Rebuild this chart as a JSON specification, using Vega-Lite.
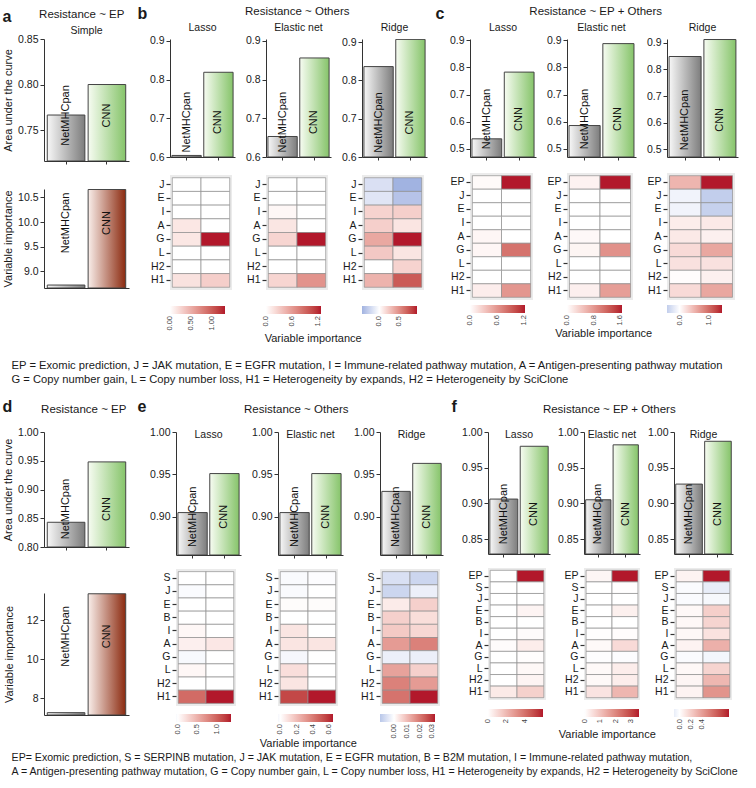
{
"$schema": "https://vega.github.io/schema/vega-lite/v6.json",
"padding": {"left": 2, "top": 5, "right": 2, "bottom": 2},
"background": "white",
"config": {
 "font": "Liberation Sans",
 "view": {"stroke": null},
 "axis": {"grid": false, "labelFontSize": 10.5, "labelColor": "#1a1a1a", "domainColor": "#333333", "tickColor": "#333333", "titleFontWeight": "normal", "titleFontSize": 11, "titleColor": "#1a1a1a", "labelPadding": 2, "labelOverlap": false, "labelBound": false},
 "title": {"fontWeight": "normal", "fontSize": 11.5, "color": "#1a1a1a"},
 "legend": {"orient": "bottom", "direction": "horizontal", "gradientLength": 55, "gradientThickness": 8, "labelFontSize": 7.5, "labelColor": "#444444", "labelOverlap": false, "titleFontWeight": "normal", "titleFontSize": 11}
},
"datasets": {
 "auc": [
  {"p":"a","m":"S","model":"NetMHCpan","auc":0.7665},{"p":"a","m":"S","model":"CNN","auc":0.80},
  {"p":"b","m":"L","model":"NetMHCpan","auc":0.604},{"p":"b","m":"L","model":"CNN","auc":0.819},
  {"p":"b","m":"E","model":"NetMHCpan","auc":0.653},{"p":"b","m":"E","model":"CNN","auc":0.856},
  {"p":"b","m":"R","model":"NetMHCpan","auc":0.836},{"p":"b","m":"R","model":"CNN","auc":0.907},
  {"p":"c","m":"L","model":"NetMHCpan","auc":0.537},{"p":"c","m":"L","model":"CNN","auc":0.783},
  {"p":"c","m":"E","model":"NetMHCpan","auc":0.586},{"p":"c","m":"E","model":"CNN","auc":0.888},
  {"p":"c","m":"R","model":"NetMHCpan","auc":0.849},{"p":"c","m":"R","model":"CNN","auc":0.913},
  {"p":"d","m":"S","model":"NetMHCpan","auc":0.843},{"p":"d","m":"S","model":"CNN","auc":0.948},
  {"p":"e","m":"L","model":"NetMHCpan","auc":0.905},{"p":"e","m":"L","model":"CNN","auc":0.951},
  {"p":"e","m":"E","model":"NetMHCpan","auc":0.905},{"p":"e","m":"E","model":"CNN","auc":0.951},
  {"p":"e","m":"R","model":"NetMHCpan","auc":0.930},{"p":"e","m":"R","model":"CNN","auc":0.963},
  {"p":"f","m":"L","model":"NetMHCpan","auc":0.906},{"p":"f","m":"L","model":"CNN","auc":0.980},
  {"p":"f","m":"E","model":"NetMHCpan","auc":0.905},{"p":"f","m":"E","model":"CNN","auc":0.982},
  {"p":"f","m":"R","model":"NetMHCpan","auc":0.927},{"p":"f","m":"R","model":"CNN","auc":0.987}
 ],
 "vi": [
  {"p":"a","model":"NetMHCpan","vi":8.72},{"p":"a","model":"CNN","vi":10.66},
  {"p":"d","model":"NetMHCpan","vi":7.25},{"p":"d","model":"CNN","vi":13.36}
 ],
 "imp": [
  {"p":"b","m":"L","f":"J","k":"N","v":0},{"p":"b","m":"L","f":"J","k":"C","v":0},
  {"p":"b","m":"L","f":"E","k":"N","v":0},{"p":"b","m":"L","f":"E","k":"C","v":0},
  {"p":"b","m":"L","f":"I","k":"N","v":0},{"p":"b","m":"L","f":"I","k":"C","v":0},
  {"p":"b","m":"L","f":"A","k":"N","v":0.15},{"p":"b","m":"L","f":"A","k":"C","v":0},
  {"p":"b","m":"L","f":"G","k":"N","v":0.15},{"p":"b","m":"L","f":"G","k":"C","v":1.32},
  {"p":"b","m":"L","f":"L","k":"N","v":0},{"p":"b","m":"L","f":"L","k":"C","v":0},
  {"p":"b","m":"L","f":"H2","k":"N","v":0},{"p":"b","m":"L","f":"H2","k":"C","v":0},
  {"p":"b","m":"L","f":"H1","k":"N","v":0.18},{"p":"b","m":"L","f":"H1","k":"C","v":0.3},

  {"p":"b","m":"E","f":"J","k":"N","v":0},{"p":"b","m":"E","f":"J","k":"C","v":0},
  {"p":"b","m":"E","f":"E","k":"N","v":0},{"p":"b","m":"E","f":"E","k":"C","v":0},
  {"p":"b","m":"E","f":"I","k":"N","v":0.05},{"p":"b","m":"E","f":"I","k":"C","v":0},
  {"p":"b","m":"E","f":"A","k":"N","v":0.15},{"p":"b","m":"E","f":"A","k":"C","v":0},
  {"p":"b","m":"E","f":"G","k":"N","v":0.25},{"p":"b","m":"E","f":"G","k":"C","v":1.28},
  {"p":"b","m":"E","f":"L","k":"N","v":0},{"p":"b","m":"E","f":"L","k":"C","v":0},
  {"p":"b","m":"E","f":"H2","k":"N","v":0},{"p":"b","m":"E","f":"H2","k":"C","v":0},
  {"p":"b","m":"E","f":"H1","k":"N","v":0.25},{"p":"b","m":"E","f":"H1","k":"C","v":0.65},

  {"p":"b","m":"R","f":"J","k":"N","v":-0.18},{"p":"b","m":"R","f":"J","k":"C","v":-0.45},
  {"p":"b","m":"R","f":"E","k":"N","v":-0.15},{"p":"b","m":"R","f":"E","k":"C","v":-0.35},
  {"p":"b","m":"R","f":"I","k":"N","v":0.2},{"p":"b","m":"R","f":"I","k":"C","v":0.22},
  {"p":"b","m":"R","f":"A","k":"N","v":0.22},{"p":"b","m":"R","f":"A","k":"C","v":0.12},
  {"p":"b","m":"R","f":"G","k":"N","v":0.4},{"p":"b","m":"R","f":"G","k":"C","v":0.98},
  {"p":"b","m":"R","f":"L","k":"N","v":0.25},{"p":"b","m":"R","f":"L","k":"C","v":0.12},
  {"p":"b","m":"R","f":"H2","k":"N","v":0},{"p":"b","m":"R","f":"H2","k":"C","v":0.2},
  {"p":"b","m":"R","f":"H1","k":"N","v":0.35},{"p":"b","m":"R","f":"H1","k":"C","v":0.75},

  {"p":"c","m":"L","f":"EP","k":"N","v":0.03},{"p":"c","m":"L","f":"EP","k":"C","v":1.22},
  {"p":"c","m":"L","f":"J","k":"N","v":0},{"p":"c","m":"L","f":"J","k":"C","v":0},
  {"p":"c","m":"L","f":"E","k":"N","v":0},{"p":"c","m":"L","f":"E","k":"C","v":0},
  {"p":"c","m":"L","f":"I","k":"N","v":0},{"p":"c","m":"L","f":"I","k":"C","v":0},
  {"p":"c","m":"L","f":"A","k":"N","v":0.05},{"p":"c","m":"L","f":"A","k":"C","v":0},
  {"p":"c","m":"L","f":"G","k":"N","v":0.05},{"p":"c","m":"L","f":"G","k":"C","v":0.8},
  {"p":"c","m":"L","f":"L","k":"N","v":0},{"p":"c","m":"L","f":"L","k":"C","v":0},
  {"p":"c","m":"L","f":"H2","k":"N","v":0},{"p":"c","m":"L","f":"H2","k":"C","v":0},
  {"p":"c","m":"L","f":"H1","k":"N","v":0.1},{"p":"c","m":"L","f":"H1","k":"C","v":0.6},

  {"p":"c","m":"E","f":"EP","k":"N","v":0.1},{"p":"c","m":"E","f":"EP","k":"C","v":1.65},
  {"p":"c","m":"E","f":"J","k":"N","v":0},{"p":"c","m":"E","f":"J","k":"C","v":0},
  {"p":"c","m":"E","f":"E","k":"N","v":0},{"p":"c","m":"E","f":"E","k":"C","v":0},
  {"p":"c","m":"E","f":"I","k":"N","v":0},{"p":"c","m":"E","f":"I","k":"C","v":0},
  {"p":"c","m":"E","f":"A","k":"N","v":0.05},{"p":"c","m":"E","f":"A","k":"C","v":0},
  {"p":"c","m":"E","f":"G","k":"N","v":0.08},{"p":"c","m":"E","f":"G","k":"C","v":0.85},
  {"p":"c","m":"E","f":"L","k":"N","v":0},{"p":"c","m":"E","f":"L","k":"C","v":0},
  {"p":"c","m":"E","f":"H2","k":"N","v":0},{"p":"c","m":"E","f":"H2","k":"C","v":0},
  {"p":"c","m":"E","f":"H1","k":"N","v":0.12},{"p":"c","m":"E","f":"H1","k":"C","v":0.75},

  {"p":"c","m":"R","f":"EP","k":"N","v":0.5},{"p":"c","m":"R","f":"EP","k":"C","v":1.45},
  {"p":"c","m":"R","f":"J","k":"N","v":-0.1},{"p":"c","m":"R","f":"J","k":"C","v":-0.43},
  {"p":"c","m":"R","f":"E","k":"N","v":-0.1},{"p":"c","m":"R","f":"E","k":"C","v":-0.4},
  {"p":"c","m":"R","f":"I","k":"N","v":0.12},{"p":"c","m":"R","f":"I","k":"C","v":0.15},
  {"p":"c","m":"R","f":"A","k":"N","v":0.15},{"p":"c","m":"R","f":"A","k":"C","v":0.1},
  {"p":"c","m":"R","f":"G","k":"N","v":0.25},{"p":"c","m":"R","f":"G","k":"C","v":0.6},
  {"p":"c","m":"R","f":"L","k":"N","v":0.2},{"p":"c","m":"R","f":"L","k":"C","v":0.2},
  {"p":"c","m":"R","f":"H2","k":"N","v":0.02},{"p":"c","m":"R","f":"H2","k":"C","v":0.1},
  {"p":"c","m":"R","f":"H1","k":"N","v":0.25},{"p":"c","m":"R","f":"H1","k":"C","v":0.6},

  {"p":"e","m":"L","f":"S","k":"N","v":0},{"p":"e","m":"L","f":"S","k":"C","v":0},
  {"p":"e","m":"L","f":"J","k":"N","v":-0.03},{"p":"e","m":"L","f":"J","k":"C","v":0},
  {"p":"e","m":"L","f":"E","k":"N","v":0},{"p":"e","m":"L","f":"E","k":"C","v":0},
  {"p":"e","m":"L","f":"B","k":"N","v":0},{"p":"e","m":"L","f":"B","k":"C","v":0},
  {"p":"e","m":"L","f":"I","k":"N","v":0.05},{"p":"e","m":"L","f":"I","k":"C","v":0},
  {"p":"e","m":"L","f":"A","k":"N","v":0.1},{"p":"e","m":"L","f":"A","k":"C","v":0.15},
  {"p":"e","m":"L","f":"G","k":"N","v":-0.05},{"p":"e","m":"L","f":"G","k":"C","v":0},
  {"p":"e","m":"L","f":"L","k":"N","v":0.05},{"p":"e","m":"L","f":"L","k":"C","v":0},
  {"p":"e","m":"L","f":"H2","k":"N","v":0},{"p":"e","m":"L","f":"H2","k":"C","v":0},
  {"p":"e","m":"L","f":"H1","k":"N","v":0.95},{"p":"e","m":"L","f":"H1","k":"C","v":1.37},

  {"p":"e","m":"E","f":"S","k":"N","v":-0.02},{"p":"e","m":"E","f":"S","k":"C","v":-0.01},
  {"p":"e","m":"E","f":"J","k":"N","v":-0.02},{"p":"e","m":"E","f":"J","k":"C","v":0},
  {"p":"e","m":"E","f":"E","k":"N","v":0.01},{"p":"e","m":"E","f":"E","k":"C","v":0.01},
  {"p":"e","m":"E","f":"B","k":"N","v":0},{"p":"e","m":"E","f":"B","k":"C","v":0},
  {"p":"e","m":"E","f":"I","k":"N","v":0.08},{"p":"e","m":"E","f":"I","k":"C","v":0},
  {"p":"e","m":"E","f":"A","k":"N","v":0.08},{"p":"e","m":"E","f":"A","k":"C","v":0.08},
  {"p":"e","m":"E","f":"G","k":"N","v":-0.03},{"p":"e","m":"E","f":"G","k":"C","v":0},
  {"p":"e","m":"E","f":"L","k":"N","v":0.1},{"p":"e","m":"E","f":"L","k":"C","v":0},
  {"p":"e","m":"E","f":"H2","k":"N","v":0.08},{"p":"e","m":"E","f":"H2","k":"C","v":0},
  {"p":"e","m":"E","f":"H1","k":"N","v":0.55},{"p":"e","m":"E","f":"H1","k":"C","v":0.65},

  {"p":"e","m":"R","f":"S","k":"N","v":-0.006},{"p":"e","m":"R","f":"S","k":"C","v":-0.008},
  {"p":"e","m":"R","f":"J","k":"N","v":-0.008},{"p":"e","m":"R","f":"J","k":"C","v":-0.003},
  {"p":"e","m":"R","f":"E","k":"N","v":0.003},{"p":"e","m":"R","f":"E","k":"C","v":0.007},
  {"p":"e","m":"R","f":"B","k":"N","v":0.007},{"p":"e","m":"R","f":"B","k":"C","v":0.005},
  {"p":"e","m":"R","f":"I","k":"N","v":0.008},{"p":"e","m":"R","f":"I","k":"C","v":0.006},
  {"p":"e","m":"R","f":"A","k":"N","v":0.015},{"p":"e","m":"R","f":"A","k":"C","v":0.019},
  {"p":"e","m":"R","f":"G","k":"N","v":-0.003},{"p":"e","m":"R","f":"G","k":"C","v":-0.003},
  {"p":"e","m":"R","f":"L","k":"N","v":0.014},{"p":"e","m":"R","f":"L","k":"C","v":0.007},
  {"p":"e","m":"R","f":"H2","k":"N","v":0.019},{"p":"e","m":"R","f":"H2","k":"C","v":0.015},
  {"p":"e","m":"R","f":"H1","k":"N","v":0.021},{"p":"e","m":"R","f":"H1","k":"C","v":0.032},

  {"p":"f","m":"L","f":"EP","k":"N","v":0},{"p":"f","m":"L","f":"EP","k":"C","v":6.0},
  {"p":"f","m":"L","f":"S","k":"N","v":0},{"p":"f","m":"L","f":"S","k":"C","v":0},
  {"p":"f","m":"L","f":"J","k":"N","v":0},{"p":"f","m":"L","f":"J","k":"C","v":0},
  {"p":"f","m":"L","f":"E","k":"N","v":0},{"p":"f","m":"L","f":"E","k":"C","v":0.3},
  {"p":"f","m":"L","f":"B","k":"N","v":0},{"p":"f","m":"L","f":"B","k":"C","v":0},
  {"p":"f","m":"L","f":"I","k":"N","v":0},{"p":"f","m":"L","f":"I","k":"C","v":0.1},
  {"p":"f","m":"L","f":"A","k":"N","v":0.1},{"p":"f","m":"L","f":"A","k":"C","v":0.5},
  {"p":"f","m":"L","f":"G","k":"N","v":0},{"p":"f","m":"L","f":"G","k":"C","v":0.05},
  {"p":"f","m":"L","f":"L","k":"N","v":0},{"p":"f","m":"L","f":"L","k":"C","v":0.2},
  {"p":"f","m":"L","f":"H2","k":"N","v":0},{"p":"f","m":"L","f":"H2","k":"C","v":0.3},
  {"p":"f","m":"L","f":"H1","k":"N","v":0.6},{"p":"f","m":"L","f":"H1","k":"C","v":1.3},

  {"p":"f","m":"E","f":"EP","k":"N","v":0.15},{"p":"f","m":"E","f":"EP","k":"C","v":3.5},
  {"p":"f","m":"E","f":"S","k":"N","v":0},{"p":"f","m":"E","f":"S","k":"C","v":0.02},
  {"p":"f","m":"E","f":"J","k":"N","v":0},{"p":"f","m":"E","f":"J","k":"C","v":0},
  {"p":"f","m":"E","f":"E","k":"N","v":0},{"p":"f","m":"E","f":"E","k":"C","v":0.25},
  {"p":"f","m":"E","f":"B","k":"N","v":0},{"p":"f","m":"E","f":"B","k":"C","v":0},
  {"p":"f","m":"E","f":"I","k":"N","v":0.02},{"p":"f","m":"E","f":"I","k":"C","v":0.05},
  {"p":"f","m":"E","f":"A","k":"N","v":0.1},{"p":"f","m":"E","f":"A","k":"C","v":0.6},
  {"p":"f","m":"E","f":"G","k":"N","v":-0.03},{"p":"f","m":"E","f":"G","k":"C","v":-0.05},
  {"p":"f","m":"E","f":"L","k":"N","v":0.1},{"p":"f","m":"E","f":"L","k":"C","v":0.3},
  {"p":"f","m":"E","f":"H2","k":"N","v":0.1},{"p":"f","m":"E","f":"H2","k":"C","v":0.3},
  {"p":"f","m":"E","f":"H1","k":"N","v":0.45},{"p":"f","m":"E","f":"H1","k":"C","v":1.2},

  {"p":"f","m":"R","f":"EP","k":"N","v":0.05},{"p":"f","m":"R","f":"EP","k":"C","v":0.89},
  {"p":"f","m":"R","f":"S","k":"N","v":-0.02},{"p":"f","m":"R","f":"S","k":"C","v":-0.1},
  {"p":"f","m":"R","f":"J","k":"N","v":-0.02},{"p":"f","m":"R","f":"J","k":"C","v":-0.04},
  {"p":"f","m":"R","f":"E","k":"N","v":0.03},{"p":"f","m":"R","f":"E","k":"C","v":0.2},
  {"p":"f","m":"R","f":"B","k":"N","v":0.03},{"p":"f","m":"R","f":"B","k":"C","v":0.18},
  {"p":"f","m":"R","f":"I","k":"N","v":0.03},{"p":"f","m":"R","f":"I","k":"C","v":0.12},
  {"p":"f","m":"R","f":"A","k":"N","v":0.05},{"p":"f","m":"R","f":"A","k":"C","v":0.33},
  {"p":"f","m":"R","f":"G","k":"N","v":-0.02},{"p":"f","m":"R","f":"G","k":"C","v":-0.05},
  {"p":"f","m":"R","f":"L","k":"N","v":0.03},{"p":"f","m":"R","f":"L","k":"C","v":0.18},
  {"p":"f","m":"R","f":"H2","k":"N","v":0.04},{"p":"f","m":"R","f":"H2","k":"C","v":0.3},
  {"p":"f","m":"R","f":"H1","k":"N","v":0.05},{"p":"f","m":"R","f":"H1","k":"C","v":0.45}
 ]
},
"resolve": {"scale": {"color": "independent"}, "legend": {"color": "independent"}},
"spacing": 12,
"vconcat": [
 {
  "title": {"text": ["EP = Exomic prediction, J = JAK mutation, E = EGFR mutation, I = Immune-related pathway mutation, A = Antigen-presenting pathway mutation", "G = Copy number gain, L = Copy number loss, H1 = Heterogeneity by expands, H2 = Heterogeneity by SciClone"], "orient": "bottom", "anchor": "start", "fontSize": 11.2, "lineHeight": 14, "offset": 16, "dx": 9},
  "resolve": {"scale": {"color": "independent"}, "legend": {"color": "independent"}},
  "spacing": 8,
  "hconcat": [
   {
    "title": {"text": "a", "anchor": "start", "fontSize": 16, "fontWeight": "bold", "dy": 16, "offset": 0},
    "resolve": {"scale": {"color": "independent"}, "legend": {"color": "independent"}},
    "vconcat": [{
     "title": {"text": "Resistance ~ EP", "anchor": "middle", "dx": 16, "offset": 6},
     "spacing": 24,
     "resolve": {"scale": {"color": "independent"}, "legend": {"color": "independent"}},
     "vconcat": [
      {
       "width": 85, "height": 122,
       "data": {"name": "auc"},
       "transform": [{"filter": "datum.p==='a'"}],
       "layer": [
        {"mark": {"type": "bar", "stroke": "#444444", "strokeWidth": 1, "clip": true},
         "encoding": {
          "x": {"field": "model", "type": "nominal", "sort": ["NetMHCpan","CNN"], "scale": {"paddingInner": 0.08, "paddingOuter": 0.08}, "axis": {"labels": false, "title": null, "tickSize": 3}},
          "y": {"field": "auc", "type": "quantitative", "scale": {"domain": [0.716, 0.85], "nice": false, "zero": false}, "axis": {"values": [0.75, 0.8, 0.85], "tickCount": 12, "format": ".2f", "title": "Area under the curve", "tickSize": 4, "titlePadding": 4}},
          "y2": {"datum": 0.716},
          "fill": {"condition": {"test": "datum.model==='CNN'", "value": {"x1":0,"y1":0,"x2":1,"y2":0,"gradient":"linear","stops":[{"offset":0,"color":"#f7fcf2"},{"offset":1,"color":"#86c46a"}]}}, "value": {"x1":0,"y1":0,"x2":1,"y2":0,"gradient":"linear","stops":[{"offset":0,"color":"#f7f7f7"},{"offset":1,"color":"#7d7d7d"}]}}
         }},
        {"mark": {"type": "text", "angle": 270, "fontSize": 11, "color": "#111111"},
         "encoding": {"x": {"field": "model", "type": "nominal", "sort": ["NetMHCpan","CNN"]}, "y": {"datum": 0.766}, "text": {"field": "model"}}},
        {"transform": [{"filter": "datum.model==='CNN'"}],
         "mark": {"type": "text", "fontSize": 10.5, "dy": -8, "color": "#1a1a1a"},
         "encoding": {"y": {"datum": 0.85}, "text": {"value": "Simple"}}}
       ]
      },
      {
       "width": 85, "height": 99,
       "data": {"name": "vi"},
       "transform": [{"filter": "datum.p==='a'"}],
       "encoding": {"x": {"field": "model", "type": "nominal", "sort": ["NetMHCpan","CNN"], "scale": {"paddingInner": 0.08, "paddingOuter": 0.08}, "axis": {"labels": false, "title": null, "ticks": false}}},
       "layer": [
        {"mark": {"type": "bar", "stroke": "#444444", "strokeWidth": 1, "clip": true},
         "encoding": {
          "y": {"field": "vi", "type": "quantitative", "scale": {"domain": [8.66, 10.67], "nice": false, "zero": false}, "axis": {"values": [9, 9.5, 10, 10.5], "tickCount": 12, "format": ".1f", "title": "Variable importance", "tickSize": 4, "titlePadding": 4}},
          "y2": {"datum": 8.66},
          "fill": {"condition": {"test": "datum.model==='CNN'", "value": {"x1":0,"y1":0,"x2":1,"y2":0,"gradient":"linear","stops":[{"offset":0,"color":"#f9eeea"},{"offset":1,"color":"#8b2a0f"}]}}, "value": {"x1":0,"y1":0,"x2":1,"y2":0,"gradient":"linear","stops":[{"offset":0,"color":"#f7f7f7"},{"offset":1,"color":"#7d7d7d"}]}}
         }},
        {"mark": {"type": "text", "angle": 270, "fontSize": 11, "color": "#111111"},
         "encoding": {"y": {"datum": 9.98}, "text": {"field": "model"}}}
       ]
      }
     ]
    }]
   },
   {
    "title": {"text": "b", "anchor": "start", "fontSize": 16, "fontWeight": "bold", "dy": 16, "dx": -12, "offset": 0},
    "resolve": {"scale": {"color": "independent"}, "legend": {"color": "independent"}},
    "vconcat": [{
     "title": {"text": "Variable importance", "orient": "bottom", "anchor": "middle", "fontSize": 11, "offset": 2, "dx": 25},
     "resolve": {"scale": {"color": "independent"}, "legend": {"color": "independent"}},
     "vconcat": [{
      "title": {"text": "Resistance ~ Others", "anchor": "middle", "dx": 9, "offset": 6},
      "spacing": 10,
      "resolve": {"scale": {"color": "independent"}, "legend": {"color": "independent"}},
      "hconcat": [
       {"spacing": 12, "resolve": {"scale": {"color": "independent"}, "legend": {"color": "independent"}}, "vconcat": [
        {
         "width": 65, "height": 118,
         "data": {"name": "auc"},
         "transform": [{"filter": "datum.p==='b' && datum.m==='L'"}],
         "layer": [
          {"mark": {"type": "bar", "stroke": "#444444", "strokeWidth": 1, "clip": true},
           "encoding": {
            "x": {"field": "model", "type": "nominal", "sort": ["NetMHCpan","CNN"], "scale": {"paddingInner": 0.08, "paddingOuter": 0.06}, "axis": {"labels": false, "title": null, "tickSize": 3}},
            "y": {"field": "auc", "type": "quantitative", "scale": {"domain": [0.6, 0.905], "nice": false, "zero": false}, "axis": {"values": [0.6, 0.7, 0.8, 0.9], "tickCount": 12, "format": ".1f", "title": null, "tickSize": 4}},
            "y2": {"datum": 0.6},
            "fill": {"condition": {"test": "datum.model==='CNN'", "value": {"x1":0,"y1":0,"x2":1,"y2":0,"gradient":"linear","stops":[{"offset":0,"color":"#f7fcf2"},{"offset":1,"color":"#86c46a"}]}}, "value": {"x1":0,"y1":0,"x2":1,"y2":0,"gradient":"linear","stops":[{"offset":0,"color":"#f7f7f7"},{"offset":1,"color":"#7d7d7d"}]}}
           }},
          {"mark": {"type": "text", "angle": 270, "fontSize": 11, "color": "#111111"},
           "encoding": {"x": {"field": "model", "type": "nominal", "sort": ["NetMHCpan","CNN"]}, "y": {"datum": 0.69}, "text": {"field": "model"}}},
          {"transform": [{"filter": "datum.model==='CNN'"}],
           "mark": {"type": "text", "fontSize": 10.5, "dy": -11, "color": "#1a1a1a"},
           "encoding": {"y": {"datum": 0.905}, "text": {"value": "Lasso"}}}
         ]
        },
        {
         "width": 62, "height": 115,
         "view": {"fill": "#ebebeb", "stroke": null},
         "data": {"name": "imp"},
         "transform": [{"filter": "datum.p==='b' && datum.m==='L'"}],
         "mark": {"type": "rect", "stroke": "#8f8f8f", "strokeWidth": 0.7},
         "encoding": {
          "x": {"field": "k", "type": "nominal", "sort": ["N","C"], "scale": {"paddingInner": 0, "paddingOuter": 0.08}, "axis": null},
          "y": {"field": "f", "type": "nominal", "sort": ["J","E","I","A","G","L","H2","H1"], "scale": {"paddingInner": 0, "paddingOuter": 0.2}, "axis": {"title": null, "domain": false, "tickSize": 4, "tickWidth": 1.2}},
          "color": {"field": "v", "type": "quantitative", "scale": {"domain": [0, 1.32], "range": ["#ffffff", "#b2182b"], "interpolate": "lab", "nice": false, "zero": false}, "legend": {"title": null, "values": [0, 0.5, 1], "format": ".2f", "offset": 16, "encode": {"labels": {"update": {"angle": {"value": 270}, "align": {"value": "right"}, "baseline": {"value": "middle"}}}}}}
         }
        }
       ]},
       {"spacing": 12, "resolve": {"scale": {"color": "independent"}, "legend": {"color": "independent"}}, "vconcat": [
        {
         "width": 65, "height": 118,
         "data": {"name": "auc"},
         "transform": [{"filter": "datum.p==='b' && datum.m==='E'"}],
         "layer": [
          {"mark": {"type": "bar", "stroke": "#444444", "strokeWidth": 1, "clip": true},
           "encoding": {
            "x": {"field": "model", "type": "nominal", "sort": ["NetMHCpan","CNN"], "scale": {"paddingInner": 0.08, "paddingOuter": 0.06}, "axis": {"labels": false, "title": null, "tickSize": 3}},
            "y": {"field": "auc", "type": "quantitative", "scale": {"domain": [0.6, 0.905], "nice": false, "zero": false}, "axis": {"values": [0.6, 0.7, 0.8, 0.9], "tickCount": 12, "format": ".1f", "title": null, "tickSize": 4}},
            "y2": {"datum": 0.6},
            "fill": {"condition": {"test": "datum.model==='CNN'", "value": {"x1":0,"y1":0,"x2":1,"y2":0,"gradient":"linear","stops":[{"offset":0,"color":"#f7fcf2"},{"offset":1,"color":"#86c46a"}]}}, "value": {"x1":0,"y1":0,"x2":1,"y2":0,"gradient":"linear","stops":[{"offset":0,"color":"#f7f7f7"},{"offset":1,"color":"#7d7d7d"}]}}
           }},
          {"mark": {"type": "text", "angle": 270, "fontSize": 11, "color": "#111111"},
           "encoding": {"x": {"field": "model", "type": "nominal", "sort": ["NetMHCpan","CNN"]}, "y": {"datum": 0.69}, "text": {"field": "model"}}},
          {"transform": [{"filter": "datum.model==='CNN'"}],
           "mark": {"type": "text", "fontSize": 10.5, "dy": -11, "color": "#1a1a1a"},
           "encoding": {"y": {"datum": 0.905}, "text": {"value": "Elastic net"}}}
         ]
        },
        {
         "width": 62, "height": 115,
         "view": {"fill": "#ebebeb", "stroke": null},
         "data": {"name": "imp"},
         "transform": [{"filter": "datum.p==='b' && datum.m==='E'"}],
         "mark": {"type": "rect", "stroke": "#8f8f8f", "strokeWidth": 0.7},
         "encoding": {
          "x": {"field": "k", "type": "nominal", "sort": ["N","C"], "scale": {"paddingInner": 0, "paddingOuter": 0.08}, "axis": null},
          "y": {"field": "f", "type": "nominal", "sort": ["J","E","I","A","G","L","H2","H1"], "scale": {"paddingInner": 0, "paddingOuter": 0.2}, "axis": {"title": null, "domain": false, "tickSize": 4, "tickWidth": 1.2}},
          "color": {"field": "v", "type": "quantitative", "scale": {"domain": [0, 1.28], "range": ["#ffffff", "#b2182b"], "interpolate": "lab", "nice": false, "zero": false}, "legend": {"title": null, "values": [0, 0.6, 1.2], "format": ".1f", "offset": 16, "encode": {"labels": {"update": {"angle": {"value": 270}, "align": {"value": "right"}, "baseline": {"value": "middle"}}}}}}
         }
        }
       ]},
       {"spacing": 12, "resolve": {"scale": {"color": "independent"}, "legend": {"color": "independent"}}, "vconcat": [
        {
         "width": 65, "height": 118,
         "data": {"name": "auc"},
         "transform": [{"filter": "datum.p==='b' && datum.m==='R'"}],
         "layer": [
          {"mark": {"type": "bar", "stroke": "#444444", "strokeWidth": 1, "clip": true},
           "encoding": {
            "x": {"field": "model", "type": "nominal", "sort": ["NetMHCpan","CNN"], "scale": {"paddingInner": 0.08, "paddingOuter": 0.06}, "axis": {"labels": false, "title": null, "tickSize": 3}},
            "y": {"field": "auc", "type": "quantitative", "scale": {"domain": [0.6, 0.908], "nice": false, "zero": false}, "axis": {"values": [0.6, 0.7, 0.8, 0.9], "tickCount": 12, "format": ".1f", "title": null, "tickSize": 4}},
            "y2": {"datum": 0.6},
            "fill": {"condition": {"test": "datum.model==='CNN'", "value": {"x1":0,"y1":0,"x2":1,"y2":0,"gradient":"linear","stops":[{"offset":0,"color":"#f7fcf2"},{"offset":1,"color":"#86c46a"}]}}, "value": {"x1":0,"y1":0,"x2":1,"y2":0,"gradient":"linear","stops":[{"offset":0,"color":"#f7f7f7"},{"offset":1,"color":"#7d7d7d"}]}}
           }},
          {"mark": {"type": "text", "angle": 270, "fontSize": 11, "color": "#111111"},
           "encoding": {"x": {"field": "model", "type": "nominal", "sort": ["NetMHCpan","CNN"]}, "y": {"datum": 0.69}, "text": {"field": "model"}}},
          {"transform": [{"filter": "datum.model==='CNN'"}],
           "mark": {"type": "text", "fontSize": 10.5, "dy": -11, "color": "#1a1a1a"},
           "encoding": {"y": {"datum": 0.908}, "text": {"value": "Ridge"}}}
         ]
        },
        {
         "width": 62, "height": 115,
         "view": {"fill": "#ebebeb", "stroke": null},
         "data": {"name": "imp"},
         "transform": [{"filter": "datum.p==='b' && datum.m==='R'"}],
         "mark": {"type": "rect", "stroke": "#8f8f8f", "strokeWidth": 0.7},
         "encoding": {
          "x": {"field": "k", "type": "nominal", "sort": ["N","C"], "scale": {"paddingInner": 0, "paddingOuter": 0.08}, "axis": null},
          "y": {"field": "f", "type": "nominal", "sort": ["J","E","I","A","G","L","H2","H1"], "scale": {"paddingInner": 0, "paddingOuter": 0.2}, "axis": {"title": null, "domain": false, "tickSize": 4, "tickWidth": 1.2}},
          "color": {"field": "v", "type": "quantitative", "scale": {"domain": [-0.45, 0, 0.98], "range": ["#a1b3e1", "#ffffff", "#b2182b"], "interpolate": "lab", "nice": false, "zero": false}, "legend": {"title": null, "values": [0, 0.5], "format": ".1f", "offset": 16, "encode": {"labels": {"update": {"angle": {"value": 270}, "align": {"value": "right"}, "baseline": {"value": "middle"}}}}}}
         }
        }
       ]}
      ]
     }]
    }]
   },
   {
    "title": {"text": "c", "anchor": "start", "fontSize": 16, "fontWeight": "bold", "dy": 16, "dx": -14, "offset": 0},
    "resolve": {"scale": {"color": "independent"}, "legend": {"color": "independent"}},
    "vconcat": [{
     "title": {"text": "Variable importance", "orient": "bottom", "anchor": "middle", "fontSize": 11, "offset": 2, "dx": 10},
     "resolve": {"scale": {"color": "independent"}, "legend": {"color": "independent"}},
     "vconcat": [{
      "title": {"text": "Resistance ~ EP + Others", "anchor": "middle", "dx": 2, "offset": 6},
      "spacing": 10,
      "resolve": {"scale": {"color": "independent"}, "legend": {"color": "independent"}},
      "hconcat": [
       {"spacing": 12, "resolve": {"scale": {"color": "independent"}, "legend": {"color": "independent"}}, "vconcat": [
        {
         "width": 66, "height": 118,
         "data": {"name": "auc"},
         "transform": [{"filter": "datum.p==='c' && datum.m==='L'"}],
         "layer": [
          {"mark": {"type": "bar", "stroke": "#444444", "strokeWidth": 1, "clip": true},
           "encoding": {
            "x": {"field": "model", "type": "nominal", "sort": ["NetMHCpan","CNN"], "scale": {"paddingInner": 0.08, "paddingOuter": 0.06}, "axis": {"labels": false, "title": null, "tickSize": 3}},
            "y": {"field": "auc", "type": "quantitative", "scale": {"domain": [0.47, 0.905], "nice": false, "zero": false}, "axis": {"values": [0.5, 0.6, 0.7, 0.8, 0.9], "tickCount": 12, "format": ".1f", "title": null, "tickSize": 4}},
            "y2": {"datum": 0.47},
            "fill": {"condition": {"test": "datum.model==='CNN'", "value": {"x1":0,"y1":0,"x2":1,"y2":0,"gradient":"linear","stops":[{"offset":0,"color":"#f7fcf2"},{"offset":1,"color":"#86c46a"}]}}, "value": {"x1":0,"y1":0,"x2":1,"y2":0,"gradient":"linear","stops":[{"offset":0,"color":"#f7f7f7"},{"offset":1,"color":"#7d7d7d"}]}}
           }},
          {"mark": {"type": "text", "angle": 270, "fontSize": 11, "color": "#111111"},
           "encoding": {"x": {"field": "model", "type": "nominal", "sort": ["NetMHCpan","CNN"]}, "y": {"datum": 0.61}, "text": {"field": "model"}}},
          {"transform": [{"filter": "datum.model==='CNN'"}],
           "mark": {"type": "text", "fontSize": 10.5, "dy": -11, "color": "#1a1a1a"},
           "encoding": {"y": {"datum": 0.905}, "text": {"value": "Lasso"}}}
         ]
        },
        {
         "width": 63, "height": 127,
         "view": {"fill": "#ebebeb", "stroke": null},
         "data": {"name": "imp"},
         "transform": [{"filter": "datum.p==='c' && datum.m==='L'"}],
         "mark": {"type": "rect", "stroke": "#8f8f8f", "strokeWidth": 0.7},
         "encoding": {
          "x": {"field": "k", "type": "nominal", "sort": ["N","C"], "scale": {"paddingInner": 0, "paddingOuter": 0.08}, "axis": null},
          "y": {"field": "f", "type": "nominal", "sort": ["EP","J","E","I","A","G","L","H2","H1"], "scale": {"paddingInner": 0, "paddingOuter": 0.2}, "axis": {"title": null, "domain": false, "tickSize": 4, "tickWidth": 1.2}},
          "color": {"field": "v", "type": "quantitative", "scale": {"domain": [0, 1.22], "range": ["#ffffff", "#b2182b"], "interpolate": "lab", "nice": false, "zero": false}, "legend": {"title": null, "values": [0, 0.6, 1.2], "format": ".1f", "offset": 5, "encode": {"labels": {"update": {"angle": {"value": 270}, "align": {"value": "right"}, "baseline": {"value": "middle"}}}}}}
         }
        }
       ]},
       {"spacing": 12, "resolve": {"scale": {"color": "independent"}, "legend": {"color": "independent"}}, "vconcat": [
        {
         "width": 69, "height": 118,
         "data": {"name": "auc"},
         "transform": [{"filter": "datum.p==='c' && datum.m==='E'"}],
         "layer": [
          {"mark": {"type": "bar", "stroke": "#444444", "strokeWidth": 1, "clip": true},
           "encoding": {
            "x": {"field": "model", "type": "nominal", "sort": ["NetMHCpan","CNN"], "scale": {"paddingInner": 0.08, "paddingOuter": 0.06}, "axis": {"labels": false, "title": null, "tickSize": 3}},
            "y": {"field": "auc", "type": "quantitative", "scale": {"domain": [0.47, 0.905], "nice": false, "zero": false}, "axis": {"values": [0.5, 0.6, 0.7, 0.8, 0.9], "tickCount": 12, "format": ".1f", "title": null, "tickSize": 4}},
            "y2": {"datum": 0.47},
            "fill": {"condition": {"test": "datum.model==='CNN'", "value": {"x1":0,"y1":0,"x2":1,"y2":0,"gradient":"linear","stops":[{"offset":0,"color":"#f7fcf2"},{"offset":1,"color":"#86c46a"}]}}, "value": {"x1":0,"y1":0,"x2":1,"y2":0,"gradient":"linear","stops":[{"offset":0,"color":"#f7f7f7"},{"offset":1,"color":"#7d7d7d"}]}}
           }},
          {"mark": {"type": "text", "angle": 270, "fontSize": 11, "color": "#111111"},
           "encoding": {"x": {"field": "model", "type": "nominal", "sort": ["NetMHCpan","CNN"]}, "y": {"datum": 0.61}, "text": {"field": "model"}}},
          {"transform": [{"filter": "datum.model==='CNN'"}],
           "mark": {"type": "text", "fontSize": 10.5, "dy": -11, "color": "#1a1a1a"},
           "encoding": {"y": {"datum": 0.905}, "text": {"value": "Elastic net"}}}
         ]
        },
        {
         "width": 66, "height": 127,
         "view": {"fill": "#ebebeb", "stroke": null},
         "data": {"name": "imp"},
         "transform": [{"filter": "datum.p==='c' && datum.m==='E'"}],
         "mark": {"type": "rect", "stroke": "#8f8f8f", "strokeWidth": 0.7},
         "encoding": {
          "x": {"field": "k", "type": "nominal", "sort": ["N","C"], "scale": {"paddingInner": 0, "paddingOuter": 0.08}, "axis": null},
          "y": {"field": "f", "type": "nominal", "sort": ["EP","J","E","I","A","G","L","H2","H1"], "scale": {"paddingInner": 0, "paddingOuter": 0.2}, "axis": {"title": null, "domain": false, "tickSize": 4, "tickWidth": 1.2}},
          "color": {"field": "v", "type": "quantitative", "scale": {"domain": [0, 1.65], "range": ["#ffffff", "#b2182b"], "interpolate": "lab", "nice": false, "zero": false}, "legend": {"title": null, "values": [0, 0.8, 1.6], "format": ".1f", "offset": 5, "encode": {"labels": {"update": {"angle": {"value": 270}, "align": {"value": "right"}, "baseline": {"value": "middle"}}}}}}
         }
        }
       ]},
       {"spacing": 12, "resolve": {"scale": {"color": "independent"}, "legend": {"color": "independent"}}, "vconcat": [
        {
         "width": 71, "height": 118,
         "data": {"name": "auc"},
         "transform": [{"filter": "datum.p==='c' && datum.m==='R'"}],
         "layer": [
          {"mark": {"type": "bar", "stroke": "#444444", "strokeWidth": 1, "clip": true},
           "encoding": {
            "x": {"field": "model", "type": "nominal", "sort": ["NetMHCpan","CNN"], "scale": {"paddingInner": 0.08, "paddingOuter": 0.06}, "axis": {"labels": false, "title": null, "tickSize": 3}},
            "y": {"field": "auc", "type": "quantitative", "scale": {"domain": [0.47, 0.915], "nice": false, "zero": false}, "axis": {"values": [0.5, 0.6, 0.7, 0.8, 0.9], "tickCount": 12, "format": ".1f", "title": null, "tickSize": 4}},
            "y2": {"datum": 0.47},
            "fill": {"condition": {"test": "datum.model==='CNN'", "value": {"x1":0,"y1":0,"x2":1,"y2":0,"gradient":"linear","stops":[{"offset":0,"color":"#f7fcf2"},{"offset":1,"color":"#86c46a"}]}}, "value": {"x1":0,"y1":0,"x2":1,"y2":0,"gradient":"linear","stops":[{"offset":0,"color":"#f7f7f7"},{"offset":1,"color":"#7d7d7d"}]}}
           }},
          {"mark": {"type": "text", "angle": 270, "fontSize": 11, "color": "#111111"},
           "encoding": {"x": {"field": "model", "type": "nominal", "sort": ["NetMHCpan","CNN"]}, "y": {"datum": 0.61}, "text": {"field": "model"}}},
          {"transform": [{"filter": "datum.model==='CNN'"}],
           "mark": {"type": "text", "fontSize": 10.5, "dy": -11, "color": "#1a1a1a"},
           "encoding": {"y": {"datum": 0.915}, "text": {"value": "Ridge"}}}
         ]
        },
        {
         "width": 68, "height": 127,
         "view": {"fill": "#ebebeb", "stroke": null},
         "data": {"name": "imp"},
         "transform": [{"filter": "datum.p==='c' && datum.m==='R'"}],
         "mark": {"type": "rect", "stroke": "#8f8f8f", "strokeWidth": 0.7},
         "encoding": {
          "x": {"field": "k", "type": "nominal", "sort": ["N","C"], "scale": {"paddingInner": 0, "paddingOuter": 0.08}, "axis": null},
          "y": {"field": "f", "type": "nominal", "sort": ["EP","J","E","I","A","G","L","H2","H1"], "scale": {"paddingInner": 0, "paddingOuter": 0.2}, "axis": {"title": null, "domain": false, "tickSize": 4, "tickWidth": 1.2}},
          "color": {"field": "v", "type": "quantitative", "scale": {"domain": [-0.43, 0, 1.45], "range": ["#c2ceec", "#ffffff", "#b2182b"], "interpolate": "lab", "nice": false, "zero": false}, "legend": {"title": null, "values": [0, 1], "format": ".1f", "offset": 5, "encode": {"labels": {"update": {"angle": {"value": 270}, "align": {"value": "right"}, "baseline": {"value": "middle"}}}}}}
         }
        }
       ]}
      ]
     }]
    }]
   }
  ]
 },
 {
  "title": {"text": ["EP= Exomic prediction, S = SERPINB mutation, J = JAK mutation, E = EGFR mutation, B = B2M mutation, I = Immune-related pathway mutation,", "A = Antigen-presenting pathway mutation, G = Copy number gain, L = Copy number loss, H1 = Heterogeneity by expands, H2 = Heterogeneity by SciClone"], "orient": "bottom", "anchor": "start", "fontSize": 10.6, "lineHeight": 14, "offset": 4, "dx": 9},
  "resolve": {"scale": {"color": "independent"}, "legend": {"color": "independent"}},
  "spacing": 8,
  "hconcat": [
   {
    "title": {"text": "d", "anchor": "start", "fontSize": 16, "fontWeight": "bold", "dy": 11, "offset": 0},
    "resolve": {"scale": {"color": "independent"}, "legend": {"color": "independent"}},
    "vconcat": [{
     "title": {"text": "Resistance ~ EP", "anchor": "middle", "dx": 18, "offset": 12},
     "spacing": 40,
     "resolve": {"scale": {"color": "independent"}, "legend": {"color": "independent"}},
     "vconcat": [
      {
       "width": 85, "height": 115,
       "data": {"name": "auc"},
       "transform": [{"filter": "datum.p==='d'"}],
       "encoding": {"x": {"field": "model", "type": "nominal", "sort": ["NetMHCpan","CNN"], "scale": {"paddingInner": 0.08, "paddingOuter": 0.08}, "axis": {"labels": false, "title": null, "tickSize": 3}}},
       "layer": [
        {"mark": {"type": "bar", "stroke": "#444444", "strokeWidth": 1, "clip": true},
         "encoding": {
          "y": {"field": "auc", "type": "quantitative", "scale": {"domain": [0.8, 1.0], "nice": false, "zero": false}, "axis": {"values": [0.8, 0.85, 0.9, 0.95, 1.0], "tickCount": 12, "format": ".2f", "title": "Area under the curve", "tickSize": 4, "titlePadding": 4}},
          "y2": {"datum": 0.8},
          "fill": {"condition": {"test": "datum.model==='CNN'", "value": {"x1":0,"y1":0,"x2":1,"y2":0,"gradient":"linear","stops":[{"offset":0,"color":"#f7fcf2"},{"offset":1,"color":"#86c46a"}]}}, "value": {"x1":0,"y1":0,"x2":1,"y2":0,"gradient":"linear","stops":[{"offset":0,"color":"#f7f7f7"},{"offset":1,"color":"#7d7d7d"}]}}
         }},
        {"mark": {"type": "text", "angle": 270, "fontSize": 11, "color": "#111111"},
         "encoding": {"y": {"datum": 0.866}, "text": {"field": "model"}}}
       ]
      },
      {
       "width": 85, "height": 122,
       "data": {"name": "vi"},
       "transform": [{"filter": "datum.p==='d'"}],
       "encoding": {"x": {"field": "model", "type": "nominal", "sort": ["NetMHCpan","CNN"], "scale": {"paddingInner": 0.08, "paddingOuter": 0.08}, "axis": {"labels": false, "title": null, "ticks": false}}},
       "layer": [
        {"mark": {"type": "bar", "stroke": "#444444", "strokeWidth": 1, "clip": true},
         "encoding": {
          "y": {"field": "vi", "type": "quantitative", "scale": {"domain": [7.13, 13.4], "nice": false, "zero": false}, "axis": {"values": [8, 10, 12], "tickCount": 12, "format": "d", "title": "Variable importance", "tickSize": 4, "titlePadding": 12}},
          "y2": {"datum": 7.13},
          "fill": {"condition": {"test": "datum.model==='CNN'", "value": {"x1":0,"y1":0,"x2":1,"y2":0,"gradient":"linear","stops":[{"offset":0,"color":"#f9eeea"},{"offset":1,"color":"#8b2a0f"}]}}, "value": {"x1":0,"y1":0,"x2":1,"y2":0,"gradient":"linear","stops":[{"offset":0,"color":"#f7f7f7"},{"offset":1,"color":"#7d7d7d"}]}}
         }},
        {"mark": {"type": "text", "angle": 270, "fontSize": 11, "color": "#111111"},
         "encoding": {"y": {"datum": 11.17}, "text": {"field": "model"}}}
       ]
      }
     ]
    }]
   },
   {
    "title": {"text": "e", "anchor": "start", "fontSize": 16, "fontWeight": "bold", "dy": 11, "dx": -12, "offset": 0},
    "resolve": {"scale": {"color": "independent"}, "legend": {"color": "independent"}},
    "vconcat": [{
     "title": {"text": "Variable importance", "orient": "bottom", "anchor": "middle", "fontSize": 11, "offset": -1, "dx": 12},
     "resolve": {"scale": {"color": "independent"}, "legend": {"color": "independent"}},
     "vconcat": [{
      "title": {"text": "Resistance ~ Others", "anchor": "middle", "dx": 0, "offset": 12},
      "spacing": 10,
      "resolve": {"scale": {"color": "independent"}, "legend": {"color": "independent"}},
      "hconcat": [
       {"spacing": 10, "resolve": {"scale": {"color": "independent"}, "legend": {"color": "independent"}}, "vconcat": [
        {
         "width": 65, "height": 123,
         "data": {"name": "auc"},
         "transform": [{"filter": "datum.p==='e' && datum.m==='L'"}],
         "layer": [
          {"mark": {"type": "bar", "stroke": "#444444", "strokeWidth": 1, "clip": true},
           "encoding": {
            "x": {"field": "model", "type": "nominal", "sort": ["NetMHCpan","CNN"], "scale": {"paddingInner": 0.08, "paddingOuter": 0.06}, "axis": {"labels": false, "title": null, "tickSize": 3}},
            "y": {"field": "auc", "type": "quantitative", "scale": {"domain": [0.855, 1.0], "nice": false, "zero": false}, "axis": {"values": [0.9, 0.95, 1.0], "tickCount": 12, "format": ".2f", "title": null, "tickSize": 4}},
            "y2": {"datum": 0.855},
            "fill": {"condition": {"test": "datum.model==='CNN'", "value": {"x1":0,"y1":0,"x2":1,"y2":0,"gradient":"linear","stops":[{"offset":0,"color":"#f7fcf2"},{"offset":1,"color":"#86c46a"}]}}, "value": {"x1":0,"y1":0,"x2":1,"y2":0,"gradient":"linear","stops":[{"offset":0,"color":"#f7f7f7"},{"offset":1,"color":"#7d7d7d"}]}}
           }},
          {"mark": {"type": "text", "angle": 270, "fontSize": 11, "color": "#111111"},
           "encoding": {"x": {"field": "model", "type": "nominal", "sort": ["NetMHCpan","CNN"]}, "y": {"datum": 0.9}, "text": {"field": "model"}}},
          {"transform": [{"filter": "datum.model==='CNN'"}],
           "mark": {"type": "text", "fontSize": 10.5, "dy": 3, "color": "#1a1a1a"},
           "encoding": {"y": {"datum": 1.0}, "text": {"value": "Lasso"}}}
         ]
        },
        {
         "width": 60, "height": 137,
         "view": {"fill": "#ebebeb", "stroke": null},
         "data": {"name": "imp"},
         "transform": [{"filter": "datum.p==='e' && datum.m==='L'"}],
         "mark": {"type": "rect", "stroke": "#8f8f8f", "strokeWidth": 0.7},
         "encoding": {
          "x": {"field": "k", "type": "nominal", "sort": ["N","C"], "scale": {"paddingInner": 0, "paddingOuter": 0.08}, "axis": null},
          "y": {"field": "f", "type": "nominal", "sort": ["S","J","E","B","I","A","G","L","H2","H1"], "scale": {"paddingInner": 0, "paddingOuter": 0.2}, "axis": {"title": null, "domain": false, "tickSize": 4, "tickWidth": 1.2}},
          "color": {"field": "v", "type": "quantitative", "scale": {"domain": [-0.05, 0, 1.37], "range": ["#f7f9fd", "#ffffff", "#b2182b"], "interpolate": "lab", "nice": false, "zero": false}, "legend": {"title": null, "values": [0, 0.5, 1], "format": ".1f", "offset": 8, "encode": {"labels": {"update": {"angle": {"value": 270}, "align": {"value": "right"}, "baseline": {"value": "middle"}}}}}}
         }
        }
       ]},
       {"spacing": 10, "resolve": {"scale": {"color": "independent"}, "legend": {"color": "independent"}}, "vconcat": [
        {
         "width": 65, "height": 123,
         "data": {"name": "auc"},
         "transform": [{"filter": "datum.p==='e' && datum.m==='E'"}],
         "layer": [
          {"mark": {"type": "bar", "stroke": "#444444", "strokeWidth": 1, "clip": true},
           "encoding": {
            "x": {"field": "model", "type": "nominal", "sort": ["NetMHCpan","CNN"], "scale": {"paddingInner": 0.08, "paddingOuter": 0.06}, "axis": {"labels": false, "title": null, "tickSize": 3}},
            "y": {"field": "auc", "type": "quantitative", "scale": {"domain": [0.855, 1.0], "nice": false, "zero": false}, "axis": {"values": [0.9, 0.95, 1.0], "tickCount": 12, "format": ".2f", "title": null, "tickSize": 4}},
            "y2": {"datum": 0.855},
            "fill": {"condition": {"test": "datum.model==='CNN'", "value": {"x1":0,"y1":0,"x2":1,"y2":0,"gradient":"linear","stops":[{"offset":0,"color":"#f7fcf2"},{"offset":1,"color":"#86c46a"}]}}, "value": {"x1":0,"y1":0,"x2":1,"y2":0,"gradient":"linear","stops":[{"offset":0,"color":"#f7f7f7"},{"offset":1,"color":"#7d7d7d"}]}}
           }},
          {"mark": {"type": "text", "angle": 270, "fontSize": 11, "color": "#111111"},
           "encoding": {"x": {"field": "model", "type": "nominal", "sort": ["NetMHCpan","CNN"]}, "y": {"datum": 0.9}, "text": {"field": "model"}}},
          {"transform": [{"filter": "datum.model==='CNN'"}],
           "mark": {"type": "text", "fontSize": 10.5, "dy": 3, "color": "#1a1a1a"},
           "encoding": {"y": {"datum": 1.0}, "text": {"value": "Elastic net"}}}
         ]
        },
        {
         "width": 60, "height": 137,
         "view": {"fill": "#ebebeb", "stroke": null},
         "data": {"name": "imp"},
         "transform": [{"filter": "datum.p==='e' && datum.m==='E'"}],
         "mark": {"type": "rect", "stroke": "#8f8f8f", "strokeWidth": 0.7},
         "encoding": {
          "x": {"field": "k", "type": "nominal", "sort": ["N","C"], "scale": {"paddingInner": 0, "paddingOuter": 0.08}, "axis": null},
          "y": {"field": "f", "type": "nominal", "sort": ["S","J","E","B","I","A","G","L","H2","H1"], "scale": {"paddingInner": 0, "paddingOuter": 0.2}, "axis": {"title": null, "domain": false, "tickSize": 4, "tickWidth": 1.2}},
          "color": {"field": "v", "type": "quantitative", "scale": {"domain": [-0.03, 0, 0.65], "range": ["#f6f7fc", "#ffffff", "#b2182b"], "interpolate": "lab", "nice": false, "zero": false}, "legend": {"title": null, "values": [0, 0.2, 0.4, 0.6], "format": ".1f", "offset": 8, "encode": {"labels": {"update": {"angle": {"value": 270}, "align": {"value": "right"}, "baseline": {"value": "middle"}}}}}}
         }
        }
       ]},
       {"spacing": 10, "resolve": {"scale": {"color": "independent"}, "legend": {"color": "independent"}}, "vconcat": [
        {
         "width": 63, "height": 123,
         "data": {"name": "auc"},
         "transform": [{"filter": "datum.p==='e' && datum.m==='R'"}],
         "layer": [
          {"mark": {"type": "bar", "stroke": "#444444", "strokeWidth": 1, "clip": true},
           "encoding": {
            "x": {"field": "model", "type": "nominal", "sort": ["NetMHCpan","CNN"], "scale": {"paddingInner": 0.08, "paddingOuter": 0.06}, "axis": {"labels": false, "title": null, "tickSize": 3}},
            "y": {"field": "auc", "type": "quantitative", "scale": {"domain": [0.855, 1.0], "nice": false, "zero": false}, "axis": {"values": [0.9, 0.95, 1.0], "tickCount": 12, "format": ".2f", "title": null, "tickSize": 4}},
            "y2": {"datum": 0.855},
            "fill": {"condition": {"test": "datum.model==='CNN'", "value": {"x1":0,"y1":0,"x2":1,"y2":0,"gradient":"linear","stops":[{"offset":0,"color":"#f7fcf2"},{"offset":1,"color":"#86c46a"}]}}, "value": {"x1":0,"y1":0,"x2":1,"y2":0,"gradient":"linear","stops":[{"offset":0,"color":"#f7f7f7"},{"offset":1,"color":"#7d7d7d"}]}}
           }},
          {"mark": {"type": "text", "angle": 270, "fontSize": 11, "color": "#111111"},
           "encoding": {"x": {"field": "model", "type": "nominal", "sort": ["NetMHCpan","CNN"]}, "y": {"datum": 0.9}, "text": {"field": "model"}}},
          {"transform": [{"filter": "datum.model==='CNN'"}],
           "mark": {"type": "text", "fontSize": 10.5, "dy": 3, "color": "#1a1a1a"},
           "encoding": {"y": {"datum": 1.0}, "text": {"value": "Ridge"}}}
         ]
        },
        {
         "width": 60, "height": 137,
         "view": {"fill": "#ebebeb", "stroke": null},
         "data": {"name": "imp"},
         "transform": [{"filter": "datum.p==='e' && datum.m==='R'"}],
         "mark": {"type": "rect", "stroke": "#8f8f8f", "strokeWidth": 0.7},
         "encoding": {
          "x": {"field": "k", "type": "nominal", "sort": ["N","C"], "scale": {"paddingInner": 0, "paddingOuter": 0.08}, "axis": null},
          "y": {"field": "f", "type": "nominal", "sort": ["S","J","E","B","I","A","G","L","H2","H1"], "scale": {"paddingInner": 0, "paddingOuter": 0.2}, "axis": {"title": null, "domain": false, "tickSize": 4, "tickWidth": 1.2}},
          "color": {"field": "v", "type": "quantitative", "scale": {"domain": [-0.011, 0, 0.032], "range": ["#b9c7e9", "#ffffff", "#b2182b"], "interpolate": "lab", "nice": false, "zero": false}, "legend": {"title": null, "values": [0, 0.01, 0.02, 0.03], "format": ".2f", "offset": 8, "encode": {"labels": {"update": {"angle": {"value": 270}, "align": {"value": "right"}, "baseline": {"value": "middle"}}}}}}
         }
        }
       ]}
      ]
     }]
    }]
   },
   {
    "title": {"text": "f", "anchor": "start", "fontSize": 16, "fontWeight": "bold", "dy": 11, "dx": -10, "offset": 0},
    "resolve": {"scale": {"color": "independent"}, "legend": {"color": "independent"}},
    "vconcat": [{
     "title": {"text": "Variable importance", "orient": "bottom", "anchor": "middle", "fontSize": 11, "offset": -1, "dx": 10},
     "resolve": {"scale": {"color": "independent"}, "legend": {"color": "independent"}},
     "vconcat": [{
      "title": {"text": "Resistance ~ EP + Others", "anchor": "middle", "dx": 12, "offset": 12},
      "spacing": 7,
      "resolve": {"scale": {"color": "independent"}, "legend": {"color": "independent"}},
      "hconcat": [
       {"spacing": 10, "resolve": {"scale": {"color": "independent"}, "legend": {"color": "independent"}}, "vconcat": [
        {
         "width": 62, "height": 122,
         "data": {"name": "auc"},
         "transform": [{"filter": "datum.p==='f' && datum.m==='L'"}],
         "layer": [
          {"mark": {"type": "bar", "stroke": "#444444", "strokeWidth": 1, "clip": true},
           "encoding": {
            "x": {"field": "model", "type": "nominal", "sort": ["NetMHCpan","CNN"], "scale": {"paddingInner": 0.08, "paddingOuter": 0.06}, "axis": {"labels": false, "title": null, "tickSize": 3}},
            "y": {"field": "auc", "type": "quantitative", "scale": {"domain": [0.829, 1.0], "nice": false, "zero": false}, "axis": {"values": [0.85, 0.9, 0.95, 1.0], "tickCount": 12, "format": ".2f", "title": null, "tickSize": 4}},
            "y2": {"datum": 0.829},
            "fill": {"condition": {"test": "datum.model==='CNN'", "value": {"x1":0,"y1":0,"x2":1,"y2":0,"gradient":"linear","stops":[{"offset":0,"color":"#f7fcf2"},{"offset":1,"color":"#86c46a"}]}}, "value": {"x1":0,"y1":0,"x2":1,"y2":0,"gradient":"linear","stops":[{"offset":0,"color":"#f7f7f7"},{"offset":1,"color":"#7d7d7d"}]}}
           }},
          {"mark": {"type": "text", "angle": 270, "fontSize": 11, "color": "#111111"},
           "encoding": {"x": {"field": "model", "type": "nominal", "sort": ["NetMHCpan","CNN"]}, "y": {"datum": 0.885}, "text": {"field": "model"}}},
          {"transform": [{"filter": "datum.model==='CNN'"}],
           "mark": {"type": "text", "fontSize": 10.5, "dy": 3, "color": "#1a1a1a"},
           "encoding": {"y": {"datum": 1.0}, "text": {"value": "Lasso"}}}
         ]
        },
        {
         "width": 58, "height": 132,
         "view": {"fill": "#ebebeb", "stroke": null},
         "data": {"name": "imp"},
         "transform": [{"filter": "datum.p==='f' && datum.m==='L'"}],
         "mark": {"type": "rect", "stroke": "#8f8f8f", "strokeWidth": 0.7},
         "encoding": {
          "x": {"field": "k", "type": "nominal", "sort": ["N","C"], "scale": {"paddingInner": 0, "paddingOuter": 0.08}, "axis": null},
          "y": {"field": "f", "type": "nominal", "sort": ["EP","S","J","E","B","I","A","G","L","H2","H1"], "scale": {"paddingInner": 0, "paddingOuter": 0.2}, "axis": {"title": null, "domain": false, "tickSize": 4, "tickWidth": 1.2}},
          "color": {"field": "v", "type": "quantitative", "scale": {"domain": [0, 6.0], "range": ["#ffffff", "#b2182b"], "interpolate": "lab", "nice": false, "zero": false}, "legend": {"title": null, "values": [0, 2, 4], "format": "d", "offset": 9, "encode": {"labels": {"update": {"angle": {"value": 270}, "align": {"value": "right"}, "baseline": {"value": "middle"}}}}}}
         }
        }
       ]},
       {"spacing": 10, "resolve": {"scale": {"color": "independent"}, "legend": {"color": "independent"}}, "vconcat": [
        {
         "width": 56, "height": 122,
         "data": {"name": "auc"},
         "transform": [{"filter": "datum.p==='f' && datum.m==='E'"}],
         "layer": [
          {"mark": {"type": "bar", "stroke": "#444444", "strokeWidth": 1, "clip": true},
           "encoding": {
            "x": {"field": "model", "type": "nominal", "sort": ["NetMHCpan","CNN"], "scale": {"paddingInner": 0.08, "paddingOuter": 0.06}, "axis": {"labels": false, "title": null, "tickSize": 3}},
            "y": {"field": "auc", "type": "quantitative", "scale": {"domain": [0.829, 1.0], "nice": false, "zero": false}, "axis": {"values": [0.85, 0.9, 0.95, 1.0], "tickCount": 12, "format": ".2f", "title": null, "tickSize": 4}},
            "y2": {"datum": 0.829},
            "fill": {"condition": {"test": "datum.model==='CNN'", "value": {"x1":0,"y1":0,"x2":1,"y2":0,"gradient":"linear","stops":[{"offset":0,"color":"#f7fcf2"},{"offset":1,"color":"#86c46a"}]}}, "value": {"x1":0,"y1":0,"x2":1,"y2":0,"gradient":"linear","stops":[{"offset":0,"color":"#f7f7f7"},{"offset":1,"color":"#7d7d7d"}]}}
           }},
          {"mark": {"type": "text", "angle": 270, "fontSize": 11, "color": "#111111"},
           "encoding": {"x": {"field": "model", "type": "nominal", "sort": ["NetMHCpan","CNN"]}, "y": {"datum": 0.885}, "text": {"field": "model"}}},
          {"transform": [{"filter": "datum.model==='CNN'"}],
           "mark": {"type": "text", "fontSize": 10.5, "dy": 3, "color": "#1a1a1a"},
           "encoding": {"y": {"datum": 1.0}, "text": {"value": "Elastic net"}}}
         ]
        },
        {
         "width": 56, "height": 132,
         "view": {"fill": "#ebebeb", "stroke": null},
         "data": {"name": "imp"},
         "transform": [{"filter": "datum.p==='f' && datum.m==='E'"}],
         "mark": {"type": "rect", "stroke": "#8f8f8f", "strokeWidth": 0.7},
         "encoding": {
          "x": {"field": "k", "type": "nominal", "sort": ["N","C"], "scale": {"paddingInner": 0, "paddingOuter": 0.08}, "axis": null},
          "y": {"field": "f", "type": "nominal", "sort": ["EP","S","J","E","B","I","A","G","L","H2","H1"], "scale": {"paddingInner": 0, "paddingOuter": 0.2}, "axis": {"title": null, "domain": false, "tickSize": 4, "tickWidth": 1.2}},
          "color": {"field": "v", "type": "quantitative", "scale": {"domain": [-0.05, 0, 3.5], "range": ["#fcfcfe", "#ffffff", "#b2182b"], "interpolate": "lab", "nice": false, "zero": false}, "legend": {"title": null, "values": [0, 1, 2, 3], "format": "d", "offset": 9, "encode": {"labels": {"update": {"angle": {"value": 270}, "align": {"value": "right"}, "baseline": {"value": "middle"}}}}}}
         }
        }
       ]},
       {"spacing": 10, "resolve": {"scale": {"color": "independent"}, "legend": {"color": "independent"}}, "vconcat": [
        {
         "width": 59, "height": 122,
         "data": {"name": "auc"},
         "transform": [{"filter": "datum.p==='f' && datum.m==='R'"}],
         "layer": [
          {"mark": {"type": "bar", "stroke": "#444444", "strokeWidth": 1, "clip": true},
           "encoding": {
            "x": {"field": "model", "type": "nominal", "sort": ["NetMHCpan","CNN"], "scale": {"paddingInner": 0.08, "paddingOuter": 0.06}, "axis": {"labels": false, "title": null, "tickSize": 3}},
            "y": {"field": "auc", "type": "quantitative", "scale": {"domain": [0.829, 1.0], "nice": false, "zero": false}, "axis": {"values": [0.85, 0.9, 0.95, 1.0], "tickCount": 12, "format": ".2f", "title": null, "tickSize": 4}},
            "y2": {"datum": 0.829},
            "fill": {"condition": {"test": "datum.model==='CNN'", "value": {"x1":0,"y1":0,"x2":1,"y2":0,"gradient":"linear","stops":[{"offset":0,"color":"#f7fcf2"},{"offset":1,"color":"#86c46a"}]}}, "value": {"x1":0,"y1":0,"x2":1,"y2":0,"gradient":"linear","stops":[{"offset":0,"color":"#f7f7f7"},{"offset":1,"color":"#7d7d7d"}]}}
           }},
          {"mark": {"type": "text", "angle": 270, "fontSize": 11, "color": "#111111"},
           "encoding": {"x": {"field": "model", "type": "nominal", "sort": ["NetMHCpan","CNN"]}, "y": {"datum": 0.885}, "text": {"field": "model"}}},
          {"transform": [{"filter": "datum.model==='CNN'"}],
           "mark": {"type": "text", "fontSize": 10.5, "dy": 3, "color": "#1a1a1a"},
           "encoding": {"y": {"datum": 1.0}, "text": {"value": "Ridge"}}}
         ]
        },
        {
         "width": 58, "height": 132,
         "view": {"fill": "#ebebeb", "stroke": null},
         "data": {"name": "imp"},
         "transform": [{"filter": "datum.p==='f' && datum.m==='R'"}],
         "mark": {"type": "rect", "stroke": "#8f8f8f", "strokeWidth": 0.7},
         "encoding": {
          "x": {"field": "k", "type": "nominal", "sort": ["N","C"], "scale": {"paddingInner": 0, "paddingOuter": 0.08}, "axis": null},
          "y": {"field": "f", "type": "nominal", "sort": ["EP","S","J","E","B","I","A","G","L","H2","H1"], "scale": {"paddingInner": 0, "paddingOuter": 0.2}, "axis": {"title": null, "domain": false, "tickSize": 4, "tickWidth": 1.2}},
          "color": {"field": "v", "type": "quantitative", "scale": {"domain": [-0.1, 0, 0.89], "range": ["#e8edf8", "#ffffff", "#b2182b"], "interpolate": "lab", "nice": false, "zero": false}, "legend": {"title": null, "values": [0, 0.2, 0.4], "format": ".1f", "offset": 9, "encode": {"labels": {"update": {"angle": {"value": 270}, "align": {"value": "right"}, "baseline": {"value": "middle"}}}}}}
         }
        }
       ]}
      ]
     }]
    }]
   }
  ]
 }
]
}
